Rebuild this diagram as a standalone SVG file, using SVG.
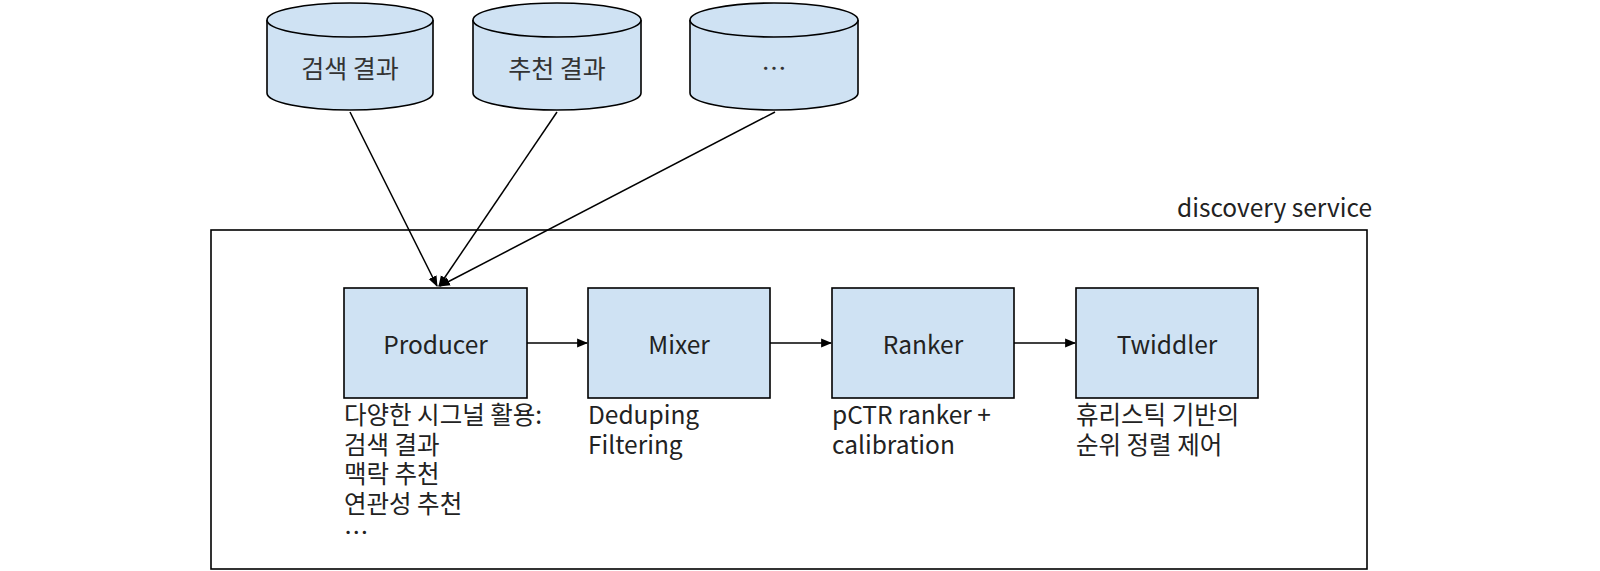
<svg xmlns="http://www.w3.org/2000/svg" width="1600" height="571" viewBox="0 0 1600 571">
<defs>
<marker id="ah" viewBox="0 0 10 10" refX="9" refY="5" markerWidth="11" markerHeight="11" markerUnits="userSpaceOnUse" orient="auto">
<path d="M0,1 L10,5 L0,9 Z" fill="#000"/>
</marker>
<style>
text{font-family:"Noto Sans CJK KR","Noto Sans",sans-serif;fill:#222}
.box{fill:#cfe2f3;stroke:#000;stroke-width:1.6}
.cyl{fill:#cfe2f3;stroke:#000;stroke-width:1.6}
.node{font-size:24.5px;text-anchor:middle;dominant-baseline:central}
.ctext{font-size:25px;text-anchor:middle;dominant-baseline:central;fill:#333}
.lbl{font-size:24.5px}
.edge{fill:none;stroke:#000;stroke-width:1.5;marker-end:url(#ah)}
</style>
</defs>
<rect width="1600" height="571" fill="#fff"/>
<g id="container">
<rect x="211" y="230" width="1156" height="339" fill="none" stroke="#000" stroke-width="1.6"/>
<text x="1372" y="217" font-size="24.5" text-anchor="end">discovery service</text>
</g>
<g id="cyl-search">
<path class="cyl" d="M267,20 L267,93 A83,17 0 0 0 433,93 L433,20"/>
<ellipse class="cyl" cx="350" cy="20" rx="83" ry="17"/>
<text class="ctext" x="350" y="67">검색 결과</text>
</g>
<g id="cyl-rec">
<path class="cyl" d="M473,20 L473,93 A84,17 0 0 0 641,93 L641,20"/>
<ellipse class="cyl" cx="557" cy="20" rx="84" ry="17"/>
<text class="ctext" x="557" y="67">추천 결과</text>
</g>
<g id="cyl-etc">
<path class="cyl" d="M690,20 L690,93 A84,17 0 0 0 858,93 L858,20"/>
<ellipse class="cyl" cx="774" cy="20" rx="84" ry="17"/>
<text class="ctext" x="774" y="67">…</text>
</g>
<g id="producer">
<rect class="box" x="344" y="288" width="183" height="110"/>
<text class="node" x="435.5" y="343">Producer</text>
<text class="lbl" x="344" y="424">다양한 시그널 활용:</text>
<text class="lbl" x="344" y="453.5">검색 결과</text>
<text class="lbl" x="344" y="483">맥락 추천</text>
<text class="lbl" x="344" y="512.5">연관성 추천</text>
<text class="lbl" x="344" y="542">…</text>
</g>
<g id="mixer">
<rect class="box" x="588" y="288" width="182" height="110"/>
<text class="node" x="679" y="343">Mixer</text>
<text class="lbl" x="588" y="424">Deduping</text>
<text class="lbl" x="588" y="453.5">Filtering</text>
</g>
<g id="ranker">
<rect class="box" x="832" y="288" width="182" height="110"/>
<text class="node" x="923" y="343">Ranker</text>
<text class="lbl" x="832" y="424">pCTR ranker +</text>
<text class="lbl" x="832" y="453.5">calibration</text>
</g>
<g id="twiddler">
<rect class="box" x="1076" y="288" width="182" height="110"/>
<text class="node" x="1167" y="343">Twiddler</text>
<text class="lbl" x="1076" y="424">휴리스틱 기반의</text>
<text class="lbl" x="1076" y="453.5">순위 정렬 제어</text>
</g>
<g id="connectors">
<line class="edge" x1="350" y1="112" x2="437" y2="286"/>
<line class="edge" x1="557" y1="112" x2="439" y2="286"/>
<line class="edge" x1="775" y1="112" x2="440" y2="286"/>
<line class="edge" x1="527" y1="343" x2="587" y2="343"/>
<line class="edge" x1="770" y1="343" x2="831" y2="343"/>
<line class="edge" x1="1014" y1="343" x2="1075" y2="343"/>
</g>
</svg>
